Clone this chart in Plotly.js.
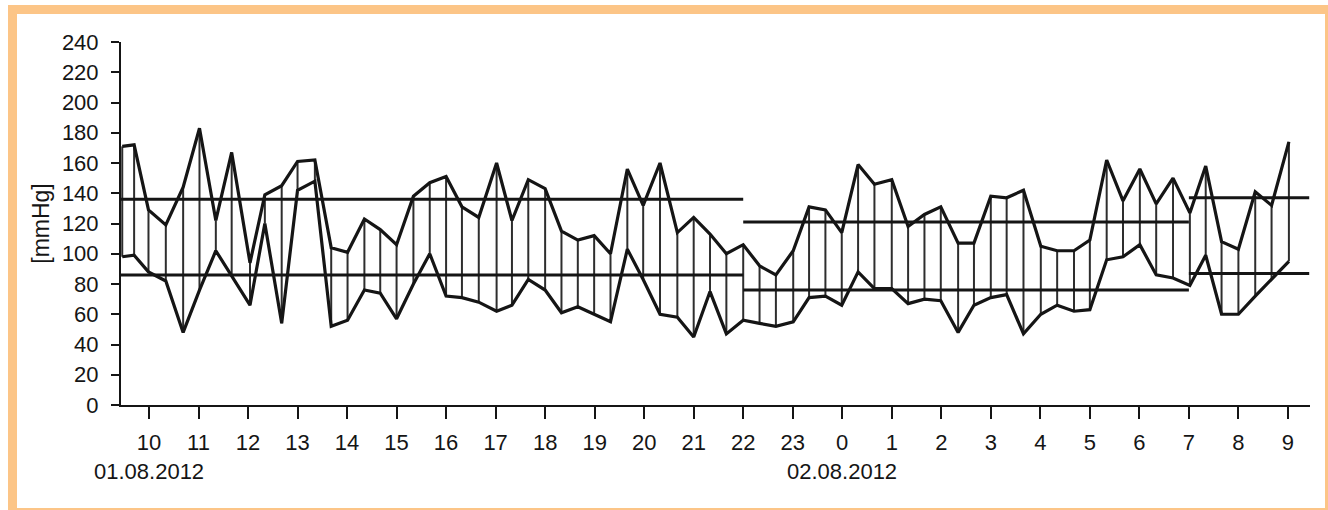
<!DOCTYPE html>
<html><head><meta charset="utf-8">
<script src="https://cdn.plot.ly/plotly-3.0.1.min.js"></script>
<style>
html,body{margin:0;padding:0;width:1328px;height:510px;overflow:hidden;background:#fff;}
#frame{position:absolute;left:8px;top:5px;width:1326px;height:512px;box-sizing:border-box;border:9px solid #fcc587;background:#fff;}
#chart{position:absolute;left:0;top:0;width:1328px;height:510px;}
</style></head><body>
<div id="frame"></div><div id="chart"></div>
<script>
// measurement times in hours from 00:00 of 01.08.2012
const times = [9.46,9.70,9.99,10.34,10.69,11.02,11.35,11.67,12.04,12.34,12.68,13.00,13.35,13.68,14.01,14.35,14.67,15.00,15.34,15.67,16.00,16.32,16.66,17.02,17.33,17.66,18.00,18.33,18.66,18.99,19.32,19.66,19.98,20.32,20.67,21.00,21.33,21.66,22.00,22.33,22.66,23.01,23.33,23.66,23.99,24.32,24.65,25.00,25.33,25.66,25.99,26.34,26.66,27.00,27.32,27.66,28.01,28.34,28.68,29.00,29.34,29.67,30.01,30.34,30.68,31.02,31.34,31.66,32.00,32.34,32.67,33.02];
const systolic = [171,172,129,119,144,183,122,167,94,139,145,161,162,104,101,123,116,106,138,147,151,131,124,160,122,149,143,115,109,112,100,156,132,160,114,124,113,100,106,92,86,102,131,129,114,159,146,149,118,126,131,107,107,138,137,142,105,102,102,109,162,135,156,133,150,127,158,108,103,141,132,174];
const diastolic = [98,99,88,82,48,76,102,85,66,120,54,142,148,52,56,76,74,57,80,100,72,71,68,62,66,83,76,61,65,60,55,103,83,60,58,45,75,47,56,54,52,55,71,72,66,88,77,77,67,70,69,48,66,71,73,47,60,66,62,63,96,98,106,86,84,79,99,60,60,72,83,95];
const tickHours = [10,11,12,13,14,15,16,17,18,19,20,21,22,23,24,25,26,27,28,29,30,31,32,33];
const tickLabels = ['10','11','12','13','14','15','16','17','18','19','20','21','22','23','0','1','2','3','4','5','6','7','8','9'];
const limitStart = [9.435, 22, 31];
const limitEnd = [22, 31, 33.43];
const sysLimit = [136, 121, 137];
const diaLimit = [86, 76, 87];
const dateLabels = ['01.08.2012', '02.08.2012'];
const dateHours = [10, 24];

const ink = '#151515';
const font = {family: '"Liberation Sans", Arial, sans-serif', size: 22, color: ink};
const titleFont = {family: '"Liberation Sans", Arial, sans-serif', size: 23, color: ink};

// vertical connectors between systolic and diastolic values
const cx = [], cy = [];
times.forEach((t, i) => { cx.push(t, t, null); cy.push(systolic[i], diastolic[i], null); });

// limit segments
const lx = [], lsy = [], ldy = [];
limitStart.forEach((s, i) => {
  lx.push(s, limitEnd[i], null);
  lsy.push(sysLimit[i], sysLimit[i], null);
  ldy.push(diaLimit[i], diaLimit[i], null);
});

const traces = [
  {x: cx, y: cy, mode: 'lines', line: {color: '#2e2e2e', width: 2}, connectgaps: false, hoverinfo: 'skip'},
  {x: lx, y: lsy, mode: 'lines', line: {color: ink, width: 3}, connectgaps: false, hoverinfo: 'skip'},
  {x: lx, y: ldy, mode: 'lines', line: {color: ink, width: 3}, connectgaps: false, hoverinfo: 'skip'},
  {x: times, y: systolic, mode: 'lines', line: {color: ink, width: 3.2}, hoverinfo: 'skip'},
  {x: times, y: diastolic, mode: 'lines', line: {color: ink, width: 3.2}, hoverinfo: 'skip'}
];

const annotations = dateLabels.map((d, i) => ({
  x: dateHours[i], xref: 'x', y: -0.183, yref: 'paper',
  text: d, showarrow: false, xanchor: 'center', yanchor: 'middle', font: font
}));

const layout = {
  width: 1328, height: 510,
  margin: {l: 121, r: 18, t: 42, b: 105},
  paper_bgcolor: 'rgba(0,0,0,0)', plot_bgcolor: 'rgba(0,0,0,0)',
  showlegend: false, hovermode: false,
  font: font,
  xaxis: {
    range: [9.435, 33.446], showgrid: false, zeroline: false,
    showline: true, linecolor: ink, linewidth: 2,
    ticks: 'outside', ticklen: 12, tickwidth: 2, tickcolor: ink,
    tickvals: tickHours, ticktext: tickLabels, tickfont: font, ticklabelstandoff: 5
  },
  yaxis: {
    range: [0, 240], showgrid: false, zeroline: false,
    showline: true, linecolor: ink, linewidth: 2,
    ticks: 'outside', ticklen: 8, tickwidth: 2, tickcolor: ink,
    tickmode: 'linear', tick0: 0, dtick: 20, tickfont: font, ticklabelstandoff: 8,
    title: {text: '[mmHg]', font: titleFont, standoff: 6}
  },
  annotations: annotations
};

Plotly.newPlot('chart', traces, layout, {staticPlot: true, displayModeBar: false});
</script>
</body></html>
